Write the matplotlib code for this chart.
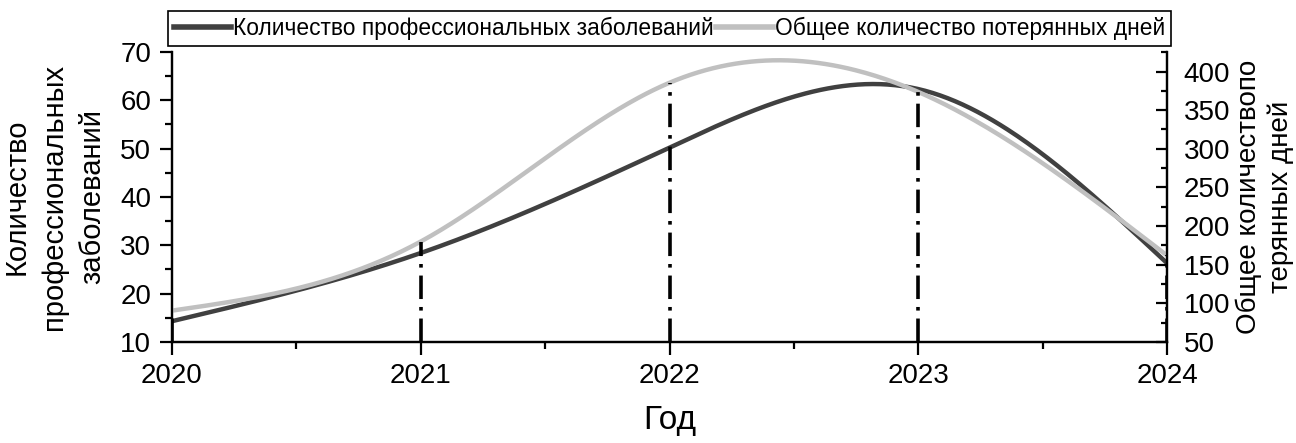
import numpy as np
import matplotlib.pyplot as plt
from matplotlib.lines import Line2D
from matplotlib.ticker import MultipleLocator

years = [2020, 2021, 2022, 2023, 2024]
diseases = [14.3, 28.4, 50.2, 62.3, 26.3]
lost_days = [90.6, 180.0, 385.5, 373.6, 162.0]

label_diseases = "Количество профессиональных заболеваний"
label_days = "Общее количество потерянных дней"


def natural_spline(x, y, n=400):
    # natural cubic spline through the points, for the smooth curve
    x = np.asarray(x, float)
    y = np.asarray(y, float)
    k = len(x)
    h = np.diff(x)
    A = np.zeros((k, k))
    b = np.zeros(k)
    A[0, 0] = A[-1, -1] = 1
    for i in range(1, k - 1):
        A[i, i - 1] = h[i - 1]
        A[i, i] = 2 * (h[i - 1] + h[i])
        A[i, i + 1] = h[i]
        b[i] = 6 * ((y[i + 1] - y[i]) / h[i] - (y[i] - y[i - 1]) / h[i - 1])
    m = np.linalg.solve(A, b)
    xs = np.linspace(x[0], x[-1], n)
    idx = np.clip(np.searchsorted(x, xs) - 1, 0, k - 2)
    t0 = x[idx]
    t1 = x[idx + 1]
    hh = t1 - t0
    ys = (m[idx] * (t1 - xs) ** 3 / (6 * hh) + m[idx + 1] * (xs - t0) ** 3 / (6 * hh)
          + (y[idx] / hh - m[idx] * hh / 6) * (t1 - xs)
          + (y[idx + 1] / hh - m[idx + 1] * hh / 6) * (xs - t0))
    return xs, ys


plt.rcParams['font.family'] = ['Liberation Sans', 'DejaVu Sans']

fig = plt.figure(figsize=(12.96, 4.43), dpi=100)
ax1 = fig.add_axes([0.1327, 0.228, 0.7678, 0.655])
ax2 = ax1.twinx()

dark = '#404040'
grey = '#c0c0c0'

xs, ys = natural_spline(years, diseases)
ax1.plot(xs, ys, color=dark, lw=3.2)
xs, ys = natural_spline(years, lost_days)
ax2.plot(xs, ys, color=grey, lw=3.2)

# drop lines
ax2.vlines(years, 50, lost_days, colors='black', lw=2.6,
           linestyles=[(0, (6.5, 2.2, 1.0, 2.2))])

ax1.set_xlim(2020, 2024)
ax1.set_ylim(10, 70)
ax2.set_ylim(50, 425.5)

ax1.xaxis.set_major_locator(MultipleLocator(1))
ax1.xaxis.set_minor_locator(MultipleLocator(0.5))
ax1.yaxis.set_major_locator(MultipleLocator(10))
ax1.yaxis.set_minor_locator(MultipleLocator(5))
ax2.yaxis.set_major_locator(MultipleLocator(50))
ax2.yaxis.set_minor_locator(MultipleLocator(25))

for ax in (ax1, ax2):
    ax.spines['top'].set_visible(False)
    for s in ax.spines.values():
        s.set_linewidth(1.6)

ax1.tick_params(axis='both', which='major', direction='out', length=9, width=1.6,
                labelsize=20, pad=6)
ax1.tick_params(axis='both', which='minor', direction='out', length=5, width=1.6)
ax2.tick_params(axis='y', which='major', direction='in', length=8, width=1.6,
                labelsize=20, pad=12)
ax2.tick_params(axis='y', which='minor', direction='in', length=4, width=1.6)

ax1.set_xlabel("Год", fontsize=24, labelpad=12)
ax1.set_ylabel("Количество\nпрофессиональных\nзаболеваний", fontsize=21,
               linespacing=1.45, labelpad=10)
ax2.set_ylabel("Общее количествопо\nтерянных дней", fontsize=20,
               linespacing=1.25, labelpad=4)

handles = [Line2D([], [], color=dark, lw=4), Line2D([], [], color=grey, lw=4)]
leg = ax1.legend(handles, [label_diseases, label_days], loc='lower center',
                 bbox_to_anchor=(0.5, 1.02), ncol=2, fancybox=False,
                 edgecolor='black', framealpha=1, handlelength=2.5,
                 handletextpad=0.1, columnspacing=0.1, borderpad=0.25,
                 borderaxespad=0, prop={'family': ['Liberation Sans Narrow', 'Liberation Sans'], 'size': 16.4})
leg.get_frame().set_linewidth(1.2)

fig.savefig('out.png', dpi=100)
